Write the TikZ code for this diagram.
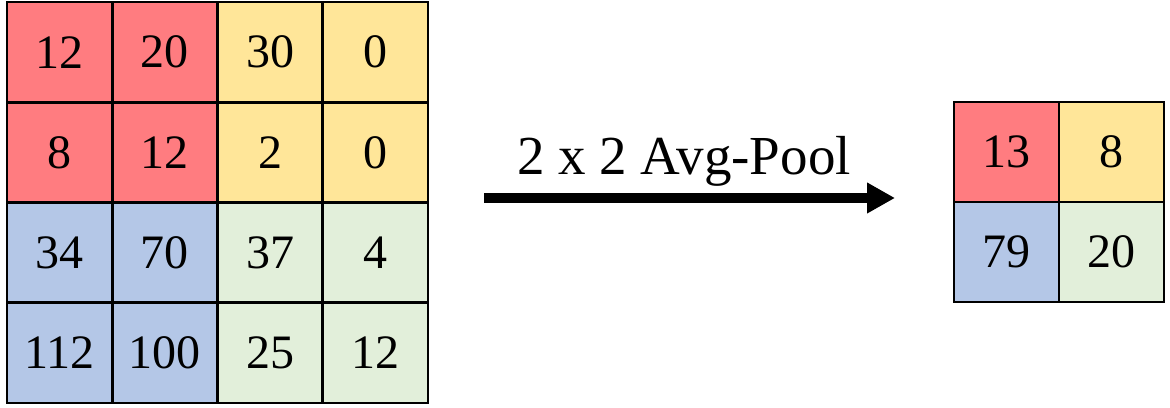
\documentclass[tikz,border=0pt]{standalone}
\usepackage{fontspec}
\setmainfont{Liberation Serif}
\usetikzlibrary{arrows.meta}
\definecolor{cred}{HTML}{FF7C80}
\definecolor{cyel}{HTML}{FFE699}
\definecolor{cblue}{HTML}{B4C7E7}
\definecolor{cgreen}{HTML}{E2EFDA}
\tikzset{
  cellbox/.style={draw=black, line width=2.6pt, minimum width=105.25pt, minimum height=100.25pt, inner sep=0pt, font=\fontsize{48}{50}\selectfont},
  smallcell/.style={draw=black, line width=2.6pt, minimum width=105pt, minimum height=100pt, inner sep=0pt, font=\fontsize{48}{50}\selectfont},
  bigarrow/.style={line width=10pt, -{Triangle[length=28pt,width=29pt]}},
}
\begin{document}
\begin{tikzpicture}[x=1pt,y=1pt]
\useasboundingbox (0,0) rectangle (1170,407);
\foreach \r/\c/\v/\col in {
 1/1/12/cred, 1/2/20/cred, 1/3/30/cyel, 1/4/0/cyel,
 2/1/8/cred, 2/2/12/cred, 2/3/2/cyel, 2/4/0/cyel,
 3/1/34/cblue, 3/2/70/cblue, 3/3/37/cgreen, 3/4/4/cgreen,
 4/1/112/cblue, 4/2/100/cblue, 4/3/25/cgreen, 4/4/12/cgreen}{
  \node[cellbox, fill=\col] (a\r\c) at ({7+105.25*(\c-0.5)},{405-100.25*(\r-0.5)}) {\v};
}
\foreach \r/\c/\v/\col in {1/1/13/cred, 1/2/8/cyel, 2/1/79/cblue, 2/2/20/cgreen}{
  \node[smallcell, fill=\col] (b\r\c) at ({954+105*(\c-0.5)},{305-100*(\r-0.5)}) {\v};
}
\coordinate (arrS) at (484,209);
\coordinate (arrE) at (895,209);
\draw[bigarrow] (arrS) -- (arrE);
\node[font=\fontsize{55}{60}\selectfont, anchor=base] (lbl) at (684,232) {2 x 2 Avg-Pool};
\end{tikzpicture}
\end{document}
